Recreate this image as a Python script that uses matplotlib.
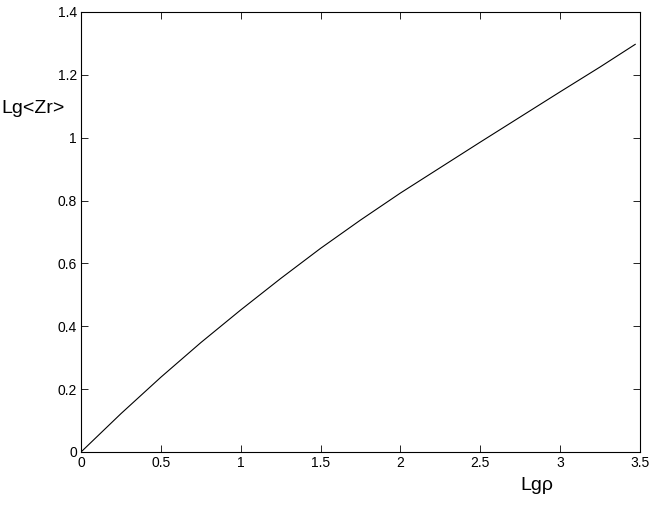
import matplotlib
matplotlib.use("Agg")
import matplotlib.pyplot as plt

plt.rcParams['font.family'] = ['Liberation Sans', 'DejaVu Sans']

lg_rho = [0, 0.25, 0.5, 0.75, 1.0, 1.25, 1.5, 1.75, 2.0, 2.25, 2.5, 2.75, 3.0, 3.25, 3.47]
lg_zr = [0, 0.122, 0.238, 0.348, 0.452, 0.552, 0.648, 0.738, 0.824, 0.905, 0.986,
         1.066, 1.146, 1.225, 1.297]

xticks = [0, 0.5, 1, 1.5, 2, 2.5, 3, 3.5]
yticks = [0, 0.2, 0.4, 0.6, 0.8, 1, 1.2, 1.4]

fig = plt.figure(figsize=(6.54, 5.12), dpi=100)
ax = fig.add_axes([0.1239, 0.1172, 0.8547, 0.8594])
ax.plot(lg_rho, lg_zr, color='black', linewidth=0.8)

ax.set_xlim(0, 3.5)
ax.set_ylim(0, 1.4)
ax.set_xticks(xticks)
ax.set_yticks(yticks)
ax.set_xticklabels([f'{t:g}' for t in xticks])
ax.set_yticklabels([f'{t:g}' for t in yticks])
ax.tick_params(direction='in', length=5, width=0.6, labelsize=10,
               top=True, right=True, pad=3)
for s in ax.spines.values():
    s.set_linewidth(0.8)

fig.text(0.051, 0.789, 'Lg<Zr>', fontsize=14, ha='center', va='center')
fig.text(0.821, 0.051, 'Lgρ', fontsize=14, ha='center', va='center')

fig.savefig('out.png', dpi=100)
